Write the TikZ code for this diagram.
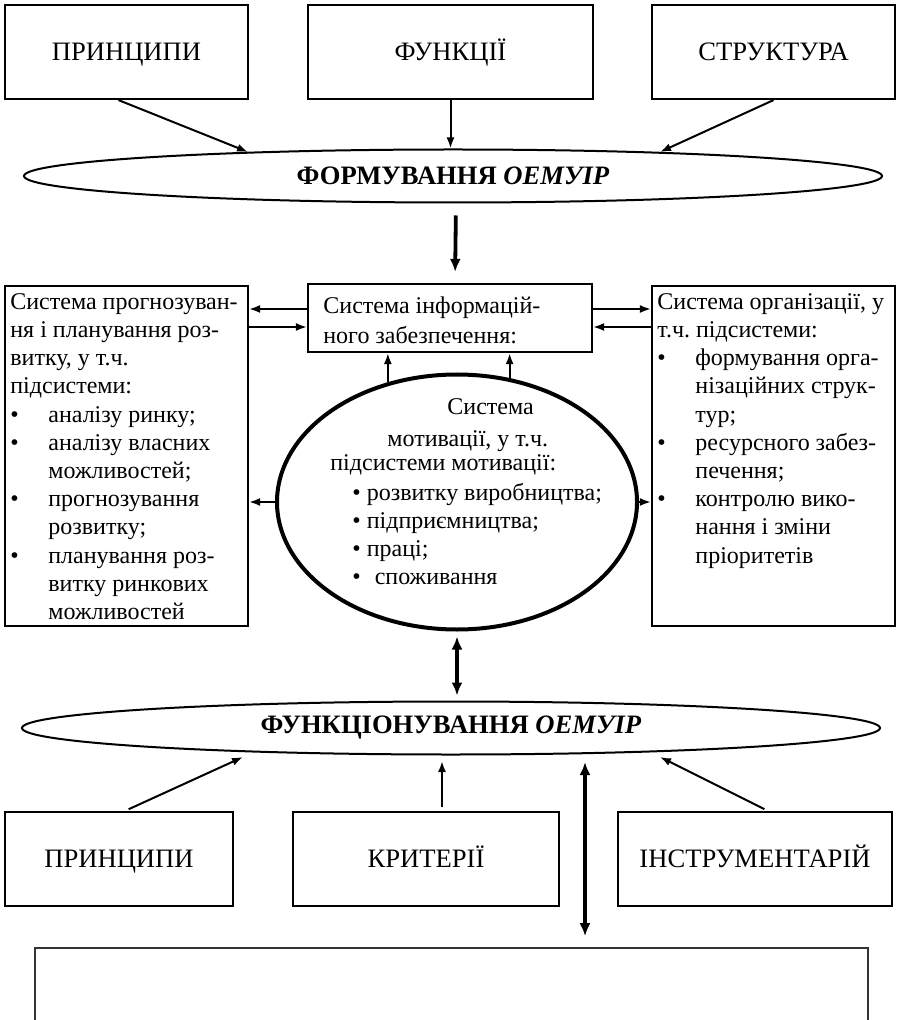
\documentclass[tikz,border=0pt]{standalone}
\usepackage{fontspec}
\setmainfont{Liberation Serif}
\usetikzlibrary{shapes.geometric,arrows.meta}
\frenchspacing
\newcommand{\bitem}[1]{\makebox[19pt][l]{\textbullet}#1}
\newcommand{\bcont}{\hspace*{19pt}}

\begin{document}
\begin{tikzpicture}[x=0.5pt,y=-0.5pt,
	>={Latex[length=5.5pt,width=4pt]},
	topbox/.style={draw,line width=1.1pt,rectangle,minimum height=47pt,text height=8.8pt,text depth=0pt,font=\fontsize{13.3}{16}\selectfont},
	sysbox/.style={draw,line width=1.1pt,rectangle,minimum width=121.5pt,minimum height=170pt},
	systext/.style={anchor=north west,inner sep=0pt,align=left,font=\fontsize{12}{14.1}\selectfont},
	stage/.style={draw,ellipse,line width=1pt,minimum width=429pt,minimum height=26.5pt,inner sep=0pt,font=\bfseries\fontsize{13.3}{16}\selectfont},
	link/.style={->,line width=1pt},
	biglink/.style={line width=1.9pt,>={Latex[length=6.5pt,width=5.5pt]}}]
	\useasboundingbox (0,0) rectangle (899,1020);
	%FORMING
	\node[topbox,minimum width=121.5pt] (prinA) at (126.5,52) {ПРИНЦИПИ};
	\node[topbox,minimum width=142.5pt] (func) at (450.5,52) {ФУНКЦІЇ};
	\node[topbox,minimum width=121.5pt] (struct) at (773.5,52) {СТРУКТУРА};
	\node[stage] (form) at (453,176) {ФОРМУВАННЯ \textit{ОЕМУІР}};
	\coordinate (formL) at (248,152);
	\coordinate (formR) at (660,152);
	\draw[link] ([xshift=-4pt]prinA.south) -- (formL);
	\draw[link] (func.south) -- (func.south |- form.north);
	\draw[link] (struct.south) -- (formR);
	%SUBSYSTEMS
	\node[draw,line width=1.1pt,minimum width=142pt,minimum height=34pt] (info) at (450,318) {};
	\node[systext,font=\fontsize{12}{15}\selectfont] (infotext) at (323,296) {Система інформацій-\\ного забезпечення:};
	\node[sysbox] (plan) at (126.5,456) {};
	\node[sysbox] (org) at (773.5,456) {};
	\node[systext] (plantext) at (10,293) {Система прогнозуван-\\
		ня і планування роз-\\
		витку, у т.ч.\\
		підсистеми:\\
		\bitem{аналізу ринку;}\\
		\bitem{аналізу власних}\\
		\bcont можливостей;\\
		\bitem{прогнозування}\\
		\bcont розвитку;\\
		\bitem{планування роз-}\\
		\bcont витку ринкових\\
		\bcont можливостей};
	\node[systext] (orgtext) at (657,293) {Система організації, у\\
		т.ч. підсистеми:\\
		\bitem{формування орга-}\\
		\bcont нізаційних струк-\\
		\bcont тур;\\
		\bitem{ресурсного забез-}\\
		\bcont печення;\\
		\bitem{контролю вико-}\\
		\bcont нання і зміни\\
		\bcont пріоритетів};
	\node[draw,ellipse,line width=2pt,minimum width=180pt,minimum height=127.5pt] (mot) at (457,502) {};
	\node[systext,font=\fontsize{12}{14}\selectfont] (mottext) at (330,398) {\hspace*{58.5pt}Система\\[2pt]
		\hspace*{28.5pt}мотивації, у т.ч.\\[-2pt]
		підсистеми мотивації:\\[1pt]
		\hspace*{11pt}\textbullet\ розвитку виробництва;\\
		\hspace*{11pt}\textbullet\ підприємництва;\\
		\hspace*{11pt}\textbullet\ праці;\\
		\hspace*{11pt}\textbullet\hspace{7pt}споживання};
	\draw[biglink,->,shorten <=6pt,shorten >=5.5pt] ([xshift=1.5pt]form.south) -- ([xshift=2.5pt]info.north);
	\draw[link] ([yshift=4.5pt]info.west) -- ([yshift=4.5pt]info.west -| plan.east);
	\draw[link] ([yshift=-4.5pt]info.west -| plan.east) -- ([yshift=-4.5pt]info.west);
	\draw[link] ([yshift=4.5pt]info.east) -- ([yshift=4.5pt]info.east -| org.west);
	\draw[link] ([yshift=-4.5pt]info.east -| org.west) -- ([yshift=-4.5pt]info.east);
	\draw[link] (mot.120.7) -- (mot.120.7 |- info.south);
	\draw[link] (mot.67.9) -- (mot.67.9 |- info.south);
	\draw[link] (mot.west) -- (mot.west -| plan.east);
	\draw[link] (mot.east) -- (mot.east -| org.west);
	%FUNCTIONING
	\node[stage] (oper) at (451,728) {ФУНКЦІОНУВАННЯ \textit{ОЕМУІР}};
	\draw[biglink,<->,shorten <=2.5pt,shorten >=2.5pt] (mot.south) -- (mot.south |- oper.north);
	\node[topbox,minimum width=114pt] (prinB) at (119,859) {ПРИНЦИПИ};
	\node[topbox,minimum width=133pt] (crit) at (426,859) {КРИТЕРІЇ};
	\node[topbox,minimum width=137pt] (instr) at (755,859) {ІНСТРУМЕНТАРІЙ};
	\node[draw=black!80,line width=0.8pt,minimum width=416.5pt,minimum height=60pt] (result) at (451.5,1008) {};
	\coordinate (operL) at (243,757);
	\coordinate (operR) at (660,757);
	\coordinate (linkB) at (585,753);
	\draw[link,shorten <=2pt] ([xshift=3pt]prinB.north) -- (operL);
	\draw[link,shorten <=2pt,shorten >=2.75pt] ([xshift=8pt]crit.north) -- ([xshift=8pt]crit.north |- oper.south);
	\draw[link,shorten <=2pt] ([xshift=6.5pt]instr.north) -- (operR);
	\draw[biglink,<->,shorten <=4.5pt,shorten >=5.5pt] (linkB) -- (linkB |- result.north);
\end{tikzpicture}
\end{document}
